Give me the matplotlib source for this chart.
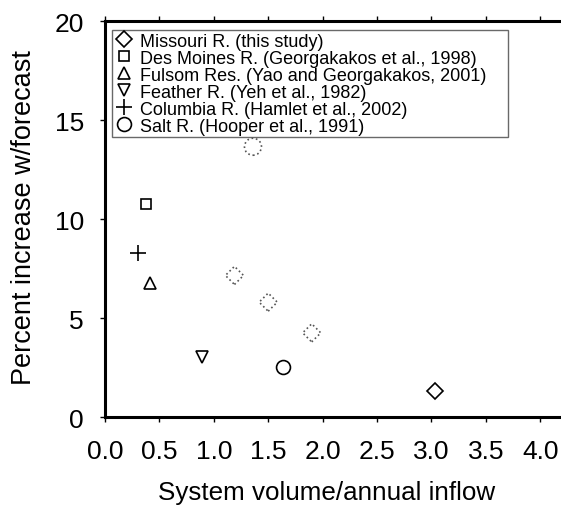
import matplotlib.pyplot as plt

plt.rcParams['font.family'] = ['Liberation Sans', 'DejaVu Sans']

# studies shown in the legend (solid markers)
studies = ['Missouri R. (this study)',
           'Des Moines R. (Georgakakos et al., 1998)',
           'Fulsom Res. (Yao and Georgakakos, 2001)',
           'Feather R. (Yeh et al., 1982)',
           'Columbia R. (Hamlet et al., 2002)',
           'Salt R. (Hooper et al., 1991)']
study_x = [3.03, 0.38, 0.41, 0.89, 0.30, 1.64]
study_y = [1.33, 10.75, 6.75, 3.05, 8.28, 2.55]
markers = ['D', 's', '^', 'v', '+', 'o']
sizes = [8, 7, 9, 9, 12, 10]

# additional (dotted) results
missouri_dot_x = [1.19, 1.50, 1.90]
missouri_dot_y = [7.15, 5.8, 4.25]
salt_dot_x = [1.36]
salt_dot_y = [13.65]

fig = plt.figure(figsize=(5.61, 5.06), dpi=100)
xmax = 4.3
ax = fig.add_axes([105 / 561, 0.1739, xmax * 108.8 / 561, 0.7826])

for lab, x, y, m, s in zip(studies, study_x, study_y, markers, sizes):
    ax.plot([x], [y], linestyle='none', marker=m, markersize=s,
            markerfacecolor='none', markeredgecolor='black',
            markeredgewidth=1.2, label=lab)

ax.scatter(missouri_dot_x, missouri_dot_y, marker='D', s=85, facecolors='none',
           edgecolors='#555555', linestyle=':', linewidths=1.2)
ax.scatter(salt_dot_x, salt_dot_y, marker='o', s=150, facecolors='none',
           edgecolors='#555555', linestyle=':', linewidths=1.2)

ax.set_xlim(0, xmax)
ax.set_ylim(0, 20)
ax.set_xticks([0, 0.5, 1, 1.5, 2, 2.5, 3, 3.5, 4])
ax.set_xticklabels(['0.0', '0.5', '1.0', '1.5', '2.0', '2.5', '3.0', '3.5', '4.0'])
ax.set_yticks([0, 5, 10, 15, 20])
ax.tick_params(direction='out', length=3.6, width=1, labelsize=19,
               top=True, right=False)
ax.tick_params(axis='x', pad=12)
ax.tick_params(axis='y', pad=11.5)
for sp in ax.spines.values():
    sp.set_linewidth(2.2)

ax.set_xlabel('System volume/annual inflow', fontsize=18.7)
ax.set_ylabel('Percent increase w/forecast', fontsize=19.5)
w_ax = xmax * 108.8
h_ax = 396.0
ax.xaxis.set_label_coords(222 / w_ax, -63 / h_ax)
ax.yaxis.set_label_coords(-68 / w_ax, 0.505)

# legend box placed in axes fraction
leg = ax.legend(loc='upper left', fontsize=13, frameon=True, fancybox=False,
                labelspacing=0.0, handletextpad=0.4, handlelength=1.0,
                borderpad=0.15, borderaxespad=0.0, mode='expand',
                bbox_to_anchor=(7 / w_ax, 0, 396 / w_ax, 1 - 9 / h_ax))
leg.get_frame().set_edgecolor('#444444')
leg.get_frame().set_linewidth(1.0)

fig.savefig('out.png', dpi=100)
